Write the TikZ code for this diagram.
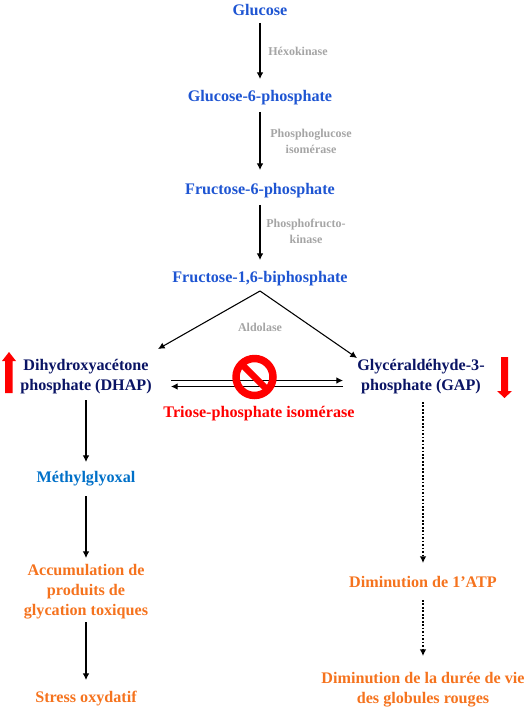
\documentclass[tikz,border=0pt]{standalone}
\usepackage{fontspec}
\setmainfont{Liberation Serif}
\usetikzlibrary{arrows.meta}
\definecolor{metblue}{RGB}{30,85,210}
\definecolor{navy}{RGB}{10,20,100}
\definecolor{midblue}{RGB}{0,112,200}
\definecolor{enzgrey}{RGB}{165,165,165}
\definecolor{effect}{RGB}{245,115,30}
\definecolor{stopred}{RGB}{255,0,0}
\tikzset{
  x=0.75pt,y=-0.75pt,
  lab/.style={inner sep=0pt,align=center,font=\bfseries\fontsize{12.1pt}{15pt}\selectfont},
  metab/.style={lab,text=metblue},
  triose/.style={lab,text=navy},
  glyox/.style={lab,text=midblue},
  eff/.style={lab,text=effect},
  enz/.style={inner sep=0pt,align=center,text=enzgrey,font=\bfseries\fontsize{9pt}{12pt}\selectfont},
  flow/.style={draw=black,line width=0.8pt,-{Latex[length=5pt,width=5pt]}},
  dotflow/.style={flow,line width=1pt,dash pattern=on 1.3pt off 1.3pt},
  bigarrow/.style={fill=stopred,draw=none},
}
\begin{document}
\begin{tikzpicture}
\useasboundingbox (0,0) rectangle (525,709);
\node[metab] (glc) at (260,10.5) {Glucose};
\node[metab] (g6p) at (260,98) {Glucose-6-phosphate};
\node[metab] (f6p) at (260,190.5) {Fructose-6-phosphate};
\node[metab] (fbp) at (260,278.5) {Fructose-1,6-biphosphate};
\node[triose] (dhap) at (86,377) {Dihydroxyacétone\\phosphate (DHAP)};
\node[triose] (gap) at (421,377) {Glycéraldéhyde-3-\\phosphate (GAP)};
\node[glyox] (mg) at (86,479) {Méthylglyoxal};
\node[eff] (acc) at (86,592) {Accumulation de\\produits de\\glycation toxiques};
\node[eff] (stress) at (86,699) {Stress oxydatif};
\node[eff] (atp) at (423,582) {Diminution de 1’ATP};
\node[eff] (vie) at (423,690) {Diminution de la durée de vie\\des globules rouges};
\node[lab,text=stopred] (tpi) at (259,414) {Triose-phosphate isomérase};
\node[enz] (hk) at (298,51.5) {Héxokinase};
\node[enz] (pgi) at (311,141) {Phosphoglucose\\isomérase};
\node[enz] (pfk) at (306,231.5) {Phosphofructo-\\kinase};
\node[enz] (ald) at (260,327.5) {Aldolase};
\coordinate (apex) at (260,291);
\coordinate (dhapin) at (158,349);
\coordinate (gapin) at (357,358);
\coordinate (dhapR) at (171,380.5);
\coordinate (gapL) at (343,380.5);
\coordinate (dhapR2) at (171,386.5);
\coordinate (gapL2) at (343,386.5);

\draw[flow] (glc.south |- 0,23) -- (g6p.north |- 0,79);
\draw[flow] (g6p.south |- 0,112) -- (f6p.north |- 0,170);
\draw[flow] (f6p.south |- 0,205) -- (fbp.north |- 0,260);
\draw[flow] (apex) -- (dhapin);
\draw[flow] (apex) -- (gapin);
\draw[flow] (dhapR) -- (gapL);
\draw[flow] (gapL2) -- (dhapR2);
\draw[flow] (dhap.south |- 0,400) -- (mg.north |- 0,462);
\draw[flow] (mg.south |- 0,496) -- (acc.north |- 0,558);
\draw[flow] (acc.south |- 0,622) -- (stress.north |- 0,680);
\draw[dotflow] (423,402) -- (atp.north |- 0,563);
\draw[dotflow] (atp.south |- 0,600) -- (vie.north |- 0,656);

\draw[stopred,line width=5.6pt] (254.5,377) circle (18.5);
\draw[stopred,line width=5pt] (241,363.5) -- (268,390.5);
\path[bigarrow] (9,352) -- (16,361) -- (12.5,361) -- (12.5,393) -- (5,393) -- (5,361) -- (2,361) -- cycle;
\path[bigarrow] (504.5,398) -- (497,391) -- (501,391) -- (501,357) -- (508,357) -- (508,391) -- (512,391) -- cycle;
\end{tikzpicture}
\end{document}
